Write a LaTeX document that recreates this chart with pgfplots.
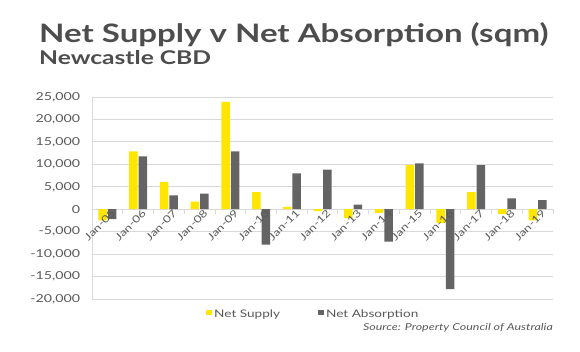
\documentclass[border=0pt]{standalone}
\usepackage{pgfplots}
\pgfplotsset{compat=1.18}
\usepackage{fontspec}
\setmainfont{Lato}[FakeStretch=1.3]
\definecolor{eyyellow}{HTML}{FFE600}
\definecolor{bargray}{HTML}{646464}
\definecolor{txtgray}{HTML}{595959}
\definecolor{titlegray}{HTML}{4D4D4D}
\definecolor{gridgray}{HTML}{D9D9D9}
\pgfplotsset{
  common/.style={scale only axis, width=461bp, height=202bp,
    xmin=-0.5, xmax=14.5, ymin=-20000, ymax=25000},
}
\begin{document}
\begin{tikzpicture}
\useasboundingbox (-92bp,-53bp) rectangle (488bp,299bp);
\begin{axis}[
  common,
  ybar=1bp, bar width=8.5bp,
  scaled y ticks=false,
  ytick={-20000,-15000,...,25000},
  yticklabels={{-20,000},{-15,000},{-10,000},{-5,000},0,{5,000},{10,000},{15,000},{20,000},{25,000}},
  ymajorgrids, grid style={gridgray, line width=0.8bp},
  axis x line*=middle, axis y line*=left,
  axis line style={gridgray, line width=0.8bp},
  xtick={0,...,14},
  xticklabels={},
  minor xtick={-0.5,0.5,...,14.5},
  major x tick style={draw=none},
  minor x tick style={draw=gridgray, line width=0.8bp},
  minor tick length=5bp,
  tick align=outside,
  ytick style={draw=none},
  yticklabel style={font=\fontsize{11}{13}\selectfont, text=txtgray, xshift=-4bp},
  legend style={at={(0.48,-0.035)}, anchor=north, draw=none, legend columns=2,
    font=\fontsize{10.5}{12}\selectfont, text=txtgray,
    /tikz/every even column/.append style={column sep=36bp}},
  legend image code/.code={\fill[#1,draw=none] (0bp,-0.5bp) rectangle (6bp,4.5bp);},
]
\addplot[fill=eyyellow, draw=none] coordinates {
(0,-2500) (1,12900) (2,6100) (3,1700) (4,23900) (5,3800) (6,500) (7,-400)
(8,-2000) (9,-800) (10,9900) (11,-3100) (12,3800) (13,-1100) (14,-2500)};
\addplot[fill=bargray, draw=none] coordinates {
(0,-2200) (1,11800) (2,3100) (3,3500) (4,12900) (5,-7900) (6,8000) (7,8800)
(8,1000) (9,-7200) (10,10200) (11,-17800) (12,9850) (13,2400) (14,2000)};
\legend{Net Supply, Net Absorption}
\end{axis}
\begin{axis}[
  common,
  axis x line*=middle, hide y axis,
  axis line style={draw=none},
  xtick={0,...,14},
  xticklabels={Jan-05,Jan-06,Jan-07,Jan-08,Jan-09,Jan-10,Jan-11,Jan-12,Jan-13,Jan-14,Jan-15,Jan-16,Jan-17,Jan-18,Jan-19},
  xtick style={draw=none},
  xticklabel style={rotate=45, anchor=north east, font=\fontsize{10}{12}\selectfont, text=txtgray, inner sep=1bp, xshift=4bp, yshift=-1bp},
]
\end{axis}
\node[anchor=base west, inner sep=0, text=titlegray, font=\fontsize{25.5}{30}\bfseries\selectfont] at (-53bp,256bp) {Net Supply v Net Absorption (sqm)};
\node[anchor=base west, inner sep=0, text=titlegray, font=\fontsize{19}{22}\bfseries\selectfont] at (-53bp,234bp) {Newcastle CBD};
\node[anchor=base east, inner sep=0, text=txtgray, font=\fontsize{9.6}{12}\itshape\selectfont] at (461bp,-31bp) {Source: Property Council of Australia};
\end{tikzpicture}
\end{document}
